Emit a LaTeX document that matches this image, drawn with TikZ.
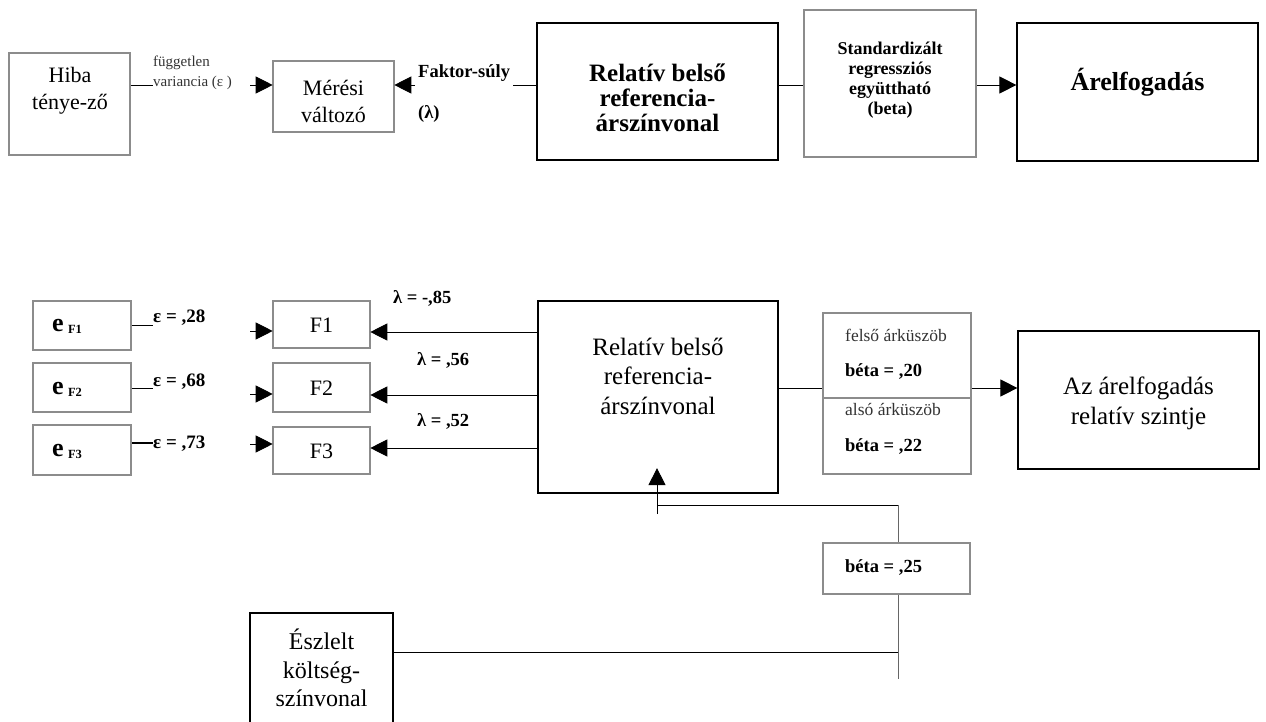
\documentclass[tikz,border=0pt]{standalone}
\usepackage{fontspec}
\setmainfont{Liberation Serif}
\usetikzlibrary{arrows.meta,calc}

\tikzset{
  graybox/.style={draw=black!45, line width=1.6pt, inner sep=0pt},
  blackbox/.style={draw=black, line width=2.2pt, inner sep=0pt},
  conn/.style={draw=black, line width=0.9pt},
  darkconn/.style={draw=black!60, line width=0.9pt},
  arr/.style={conn, -{Triangle[length=17pt, width=17pt]}, shorten >=-0.5pt},
  txt/.style={inner sep=0pt, align=center},
  ltxt/.style={inner sep=0pt, anchor=west, align=left},
  big/.style={font=\fontsize{22}{27}\selectfont},
  bigb/.style={font=\fontsize{25}{25}\selectfont\bfseries},
  midb/.style={font=\fontsize{18}{20}\selectfont\bfseries},
  labb/.style={font=\fontsize{19}{22}\selectfont\bfseries},
  lamb/.style={font=\fontsize{18.5}{22}\selectfont\bfseries},
  small/.style={font=\fontsize{15}{20}\selectfont, text=black!80},
  smallr/.style={font=\fontsize{17.5}{20}\selectfont, text=black!80},
}

% box from its corners (x1,y1) and (x2,y2), y measured downwards
\newcommand{\boxat}[6]{%
  \node[#1, minimum width={(#5)-(#3)}, minimum height={(#6)-(#4)}] (#2)
    at ({((#3)+(#5))/2},{((#4)+(#6))/2}) {};}

\begin{document}
\begin{tikzpicture}[x=1pt, y=-1pt]
\useasboundingbox (0,0) rectangle (1266,722);
\clip (0,0) rectangle (1266,722);

% ---------------- upper row ----------------
\boxat{graybox}{hiba}{9}{53}{130}{155}
\node[txt, big] (hibaT) at (70,91) {Hiba\\ténye-ző};

\boxat{graybox}{meresi}{273}{61}{394}{132}
\node[txt, big] (meresiT) at (333.5,101) {Mérési\\változó};

\boxat{blackbox}{relA}{537}{23}{778}{160}
\node[txt, bigb] (relAT) at (657.5,98) {Relatív belső\\referencia-\\árszínvonal};

\boxat{graybox}{std}{804}{10}{976}{157}
\node[txt, midb] (stdT) at (890,80) {Standardizált\\regressziós\\együttható\\(beta)};

\boxat{blackbox}{arelA}{1017}{23}{1258}{161}
\node[txt, font=\fontsize{26}{26}\selectfont\bfseries] (arelAT) at (1137.5,82) {Árelfogadás};

\coordinate (rowA) at (0,85);

\node[ltxt, small] (fugg) at (153,73) {független\\variancia (ε )};
\coordinate (fuggEnd) at (250,85);
\draw[conn] (hiba.east |- rowA) -- (fugg.west |- rowA);
\draw[arr] (fuggEnd) -- (meresi.west |- rowA);

\node[ltxt, lamb] (faktor) at (418,73) {Faktor-súly};
\node[ltxt, lamb] (lambdaA) at (418,114) {(λ)};
\coordinate (faktorL) at (415,85);
\coordinate (faktorR) at (513,85);
\draw[arr] (faktorL) -- (meresi.east |- rowA);
\draw[conn] (relA.west |- rowA) -- (faktorR);

\draw[conn] (relA.east |- rowA) -- (std.west |- rowA);
\draw[arr] (std.east |- rowA) -- (arelA.west |- rowA);

% ---------------- lower model ----------------
\boxat{graybox}{eA}{33}{301}{131}{350}
\boxat{graybox}{eB}{33}{363}{131}{412}
\boxat{graybox}{eC}{33}{425}{131}{475}
\node[ltxt, font=\fontsize{26}{26}\selectfont\bfseries] (eAT) at (52,326)
  {e\,\raisebox{-2pt}{\fontsize{12.5}{12.5}\selectfont F1}};
\node[ltxt, font=\fontsize{26}{26}\selectfont\bfseries] (eBT) at (52,389)
  {e\,\raisebox{-2pt}{\fontsize{12.5}{12.5}\selectfont F2}};
\node[ltxt, font=\fontsize{26}{26}\selectfont\bfseries] (eCT) at (52,451)
  {e\,\raisebox{-2pt}{\fontsize{12.5}{12.5}\selectfont F3}};

\boxat{graybox}{fA}{273}{301}{370}{348}
\boxat{graybox}{fB}{273}{363}{370}{412}
\boxat{graybox}{fC}{273}{427}{370}{474}
\node[txt, big] (fAT) at (321.5,325) {F1};
\node[txt, big] (fBT) at (321.5,388) {F2};
\node[txt, big] (fCT) at (321.5,451) {F3};

\boxat{blackbox}{relB}{538}{301}{778}{493}
\node[txt, font=\fontsize{25}{29.5}\selectfont] (relBT) at (658,376)
  {Relatív belső\\referencia-\\árszínvonal};

% error terms
\node[ltxt, labb] (epsA) at (153,318) {ε = ,28};
\node[ltxt, labb] (epsB) at (153,382) {ε = ,68};
\node[ltxt, labb] (epsC) at (153,444) {ε = ,73};
\draw[conn] (eA.east |- 0,325) -- (epsA.west |- 0,325);
\draw[conn] (eB.east |- 0,388) -- (epsB.west |- 0,388);
\draw[conn, line width=1.4pt] (eC.east |- 0,443) -- (epsC.west |- 0,443);
\coordinate (epsAend) at (250,331);
\coordinate (epsBend) at (250,394);
\coordinate (epsCend) at (250,444);
\draw[arr] (epsAend) -- (fA.west |- epsAend);
\draw[arr] (epsBend) -- (fB.west |- epsBend);
\draw[arr] (epsCend) -- (fC.west |- epsCend);

% factor loadings
\coordinate (lamA) at (0,332);
\coordinate (lamB) at (0,395);
\coordinate (lamC) at (0,448);
\draw[arr] (relB.west |- lamA) -- (fA.east |- lamA);
\draw[arr] (relB.west |- lamB) -- (fB.east |- lamB);
\draw[arr] (relB.west |- lamC) -- (fC.east |- lamC);
\node[ltxt, lamb] (lamAT) at (393,298) {λ = -,85};
\node[ltxt, lamb] (lamBT) at (417,360) {λ = ,56};
\node[ltxt, lamb] (lamCT) at (417,421) {λ = ,52};

% thresholds
\boxat{graybox}{thr}{823}{313}{971}{474}
\draw[draw=black!45, line width=1.6pt] (thr.west |- 0,398) -- (thr.east |- 0,398);
\node[ltxt, smallr] (thrA) at (845,335) {felső árküszöb};
\node[ltxt, lamb] (thrB) at (845,372) {béta = ,20};
\node[ltxt, smallr] (thrC) at (845,409) {alsó árküszöb};
\node[ltxt, lamb] (thrD) at (845,447) {béta = ,22};

\boxat{blackbox}{arelB}{1018}{331}{1259}{469}
\node[txt, font=\fontsize{25}{30}\selectfont] (arelBT) at (1138.5,403)
  {Az árelfogadás\\relatív szintje};

\coordinate (rowB) at (0,388);
\draw[conn] (relB.east |- rowB) -- (thr.west |- rowB);
\draw[arr] (thr.east |- rowB) -- (arelB.west |- rowB);

% perceived cost level
\boxat{blackbox}{eszl}{250}{613}{393}{760}
\node[txt, font=\fontsize{24}{28.5}\selectfont] (eszlT) at (321.5,668)
  {Észlelt\\költség-\\színvonal};

\boxat{graybox}{bB}{823}{543}{970}{594}
\node[ltxt, lamb] (bBT) at (845,567) {béta = ,25};

\coordinate (upFoot) at (657,514);
\coordinate (upTip) at ($(relB.south)+(-1,-26)$);
\coordinate (joinTop) at (898,505);
\coordinate (joinBot) at (898,679);
\draw[arr, shorten >=0pt] (upFoot) -- (upTip);
\draw[conn] (upFoot |- joinTop) -- (joinTop);
\draw[darkconn] (joinTop) -- (joinTop |- bB.north);
\draw[darkconn] (joinBot |- bB.south) -- (joinBot);
\draw[conn] (eszl.east |- 0,652) -- (joinBot |- 0,652);
\end{tikzpicture}
\end{document}
